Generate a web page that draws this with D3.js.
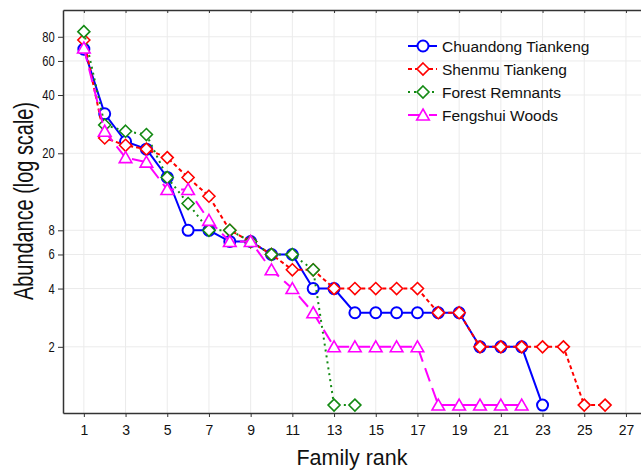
<!DOCTYPE html>
<html>
<head>
<meta charset="utf-8">
<script src="https://cdn.jsdelivr.net/npm/d3@7"></script>
<style>
  body { margin: 0; background: #fff; }
  svg { display: block; font-family: "Liberation Sans", Arial, sans-serif; }
</style>
</head>
<body>
<svg id="chart" width="641" height="471"></svg>
<script>
// values, rank 1..n
var chuandong = [69, 32, 23, 21, 15, 8, 8, 7, 7, 6, 6, 4, 4, 3, 3, 3, 3, 3, 3, 2, 2, 2, 1];
var shenmu = [77, 24, 22, 21, 19, 15, 12, 8, 7, 6, 5, 5, 4, 4, 4, 4, 4, 3, 3, 2, 2, 2, 2, 2, 1, 1];
var forest = [85, 28, 26, 25, 15, 11, 8, 8, 7, 6, 6, 5, 1, 1];
var fengshui = [70, 26, 19, 18, 13, 13, 9, 7, 7, 5, 4, 3, 2, 2, 2, 2, 2, 1, 1, 1, 1, 1];

var seriesNames = ["Chuandong Tiankeng", "Shenmu Tiankeng", "Forest Remnants", "Fengshui Woods"];
var xTicks = [1, 3, 5, 7, 9, 11, 13, 15, 17, 19, 21, 23, 25, 27];
var yTicks = [2, 4, 6, 8, 20, 40, 60, 80];

var series = [
  { name: seriesNames[0], values: chuandong, color: "#0000ff", dash: null, marker: "circle" },
  { name: seriesNames[1], values: shenmu, color: "#ff0000", dash: "4,3", marker: "diamond" },
  { name: seriesNames[2], values: forest, color: "#138a13", dash: "2,4", marker: "diamond" },
  { name: seriesNames[3], values: fengshui, color: "#ff00ff", dash: "14,7", marker: "triangle" }
];

var svg = d3.select("#chart");
var plotLeft = 63, plotTop = 10, plotBottom = 413;

var x = d3.scaleLinear().domain([0, 28]).range([plotLeft, plotLeft + 28 * 20.85]);
var y = d3.scaleLog().domain([0.91, 110]).range([plotBottom, plotTop]);

// grid
var grid = svg.append("g").attr("stroke", "#ebebeb").attr("stroke-width", 1);
grid.selectAll(".vg").data(xTicks).enter().append("line")
  .attr("x1", d => x(d)).attr("x2", d => x(d))
  .attr("y1", plotTop).attr("y2", plotBottom);
grid.selectAll(".hg").data(yTicks).enter().append("line")
  .attr("x1", plotLeft).attr("x2", 641)
  .attr("y1", d => y(d)).attr("y2", d => y(d));

// axes
var xAxis = svg.append("g")
  .attr("transform", "translate(0," + plotBottom + ")")
  .call(d3.axisBottom(x).tickValues(xTicks).tickSize(4).tickSizeOuter(0).tickPadding(8));
xAxis.select(".domain").attr("stroke", "#333").attr("stroke-width", 1.5);
xAxis.selectAll(".tick line").attr("stroke", "#333");
xAxis.selectAll("text").attr("font-size", 14).attr("fill", "#111");

var yAxis = svg.append("g")
  .attr("transform", "translate(" + plotLeft + ",0)")
  .call(d3.axisLeft(y).tickValues(yTicks).tickFormat(d3.format("d")).tickSize(5).tickSizeOuter(0));
yAxis.select(".domain").attr("stroke", "#333").attr("stroke-width", 1.5);
yAxis.selectAll(".tick line").attr("stroke", "#333");
yAxis.selectAll("text")
  .attr("font-size", 14).attr("fill", "#111")
  .attr("x", -10.5).attr("transform", "scale(0.8,1)");

// top border with small inward ticks
var topAxis = svg.append("g").attr("transform", "translate(0," + plotTop + ")")
  .call(d3.axisTop(x).tickValues(xTicks).tickSize(-3).tickSizeOuter(0).tickFormat(""));
topAxis.select(".domain").attr("stroke", "#333").attr("stroke-width", 1.5);
topAxis.selectAll(".tick line").attr("stroke", "#333");

// titles
svg.append("text")
  .attr("x", plotLeft + (641 - plotLeft) / 2).attr("y", 465)
  .attr("text-anchor", "middle").attr("font-size", 21.5).attr("fill", "#111")
  .text("Family rank");
svg.append("text")
  .attr("transform", "translate(33,201) rotate(-90)")
  .attr("text-anchor", "middle").attr("font-size", 27).attr("fill", "#111")
  .attr("textLength", 198).attr("lengthAdjust", "spacingAndGlyphs")
  .text("Abundance (log scale)");

function drawMarker(g, type, color) {
  if (type === "circle") {
    g.append("circle").attr("r", 5.5);
  } else if (type === "diamond") {
    g.append("path").attr("d", "M0,-6L6,0L0,6L-6,0Z");
  } else {
    g.append("path").attr("d", "M0,-6L6.3,5L-6.3,5Z");
  }
  g.selectAll("*").attr("fill", "#fff").attr("stroke", color)
    .attr("stroke-width", type === "circle" ? 2 : 1.6);
}

var line = d3.line().x((d, i) => x(i + 1)).y(d => y(d));

series.forEach(function (s) {
  var g = svg.append("g");
  g.append("path")
    .attr("d", line(s.values))
    .attr("fill", "none")
    .attr("stroke", s.color)
    .attr("stroke-width", 2)
    .attr("stroke-dasharray", s.dash);
  g.selectAll(".m").data(s.values).enter().append("g")
    .attr("transform", (d, i) => "translate(" + x(i + 1) + "," + y(d) + ")")
    .each(function () { drawMarker(d3.select(this), s.marker, s.color); });
});

// legend
var legend = svg.append("g").attr("transform", "translate(408,46)");
series.forEach(function (s, i) {
  var row = legend.append("g").attr("transform", "translate(0," + (i * 23) + ")");
  row.append("line").attr("x1", 0).attr("x2", 29)
    .attr("stroke", s.color).attr("stroke-width", 2)
    .attr("stroke-dasharray", s.dash);
  drawMarker(row.append("g").attr("transform", "translate(15,0)"), s.marker, s.color);
  row.append("text").attr("x", 34).attr("y", 5.5)
    .attr("font-size", 15.5).attr("fill", "#111")
    .text(s.name);
});
</script>
</body>
</html>
